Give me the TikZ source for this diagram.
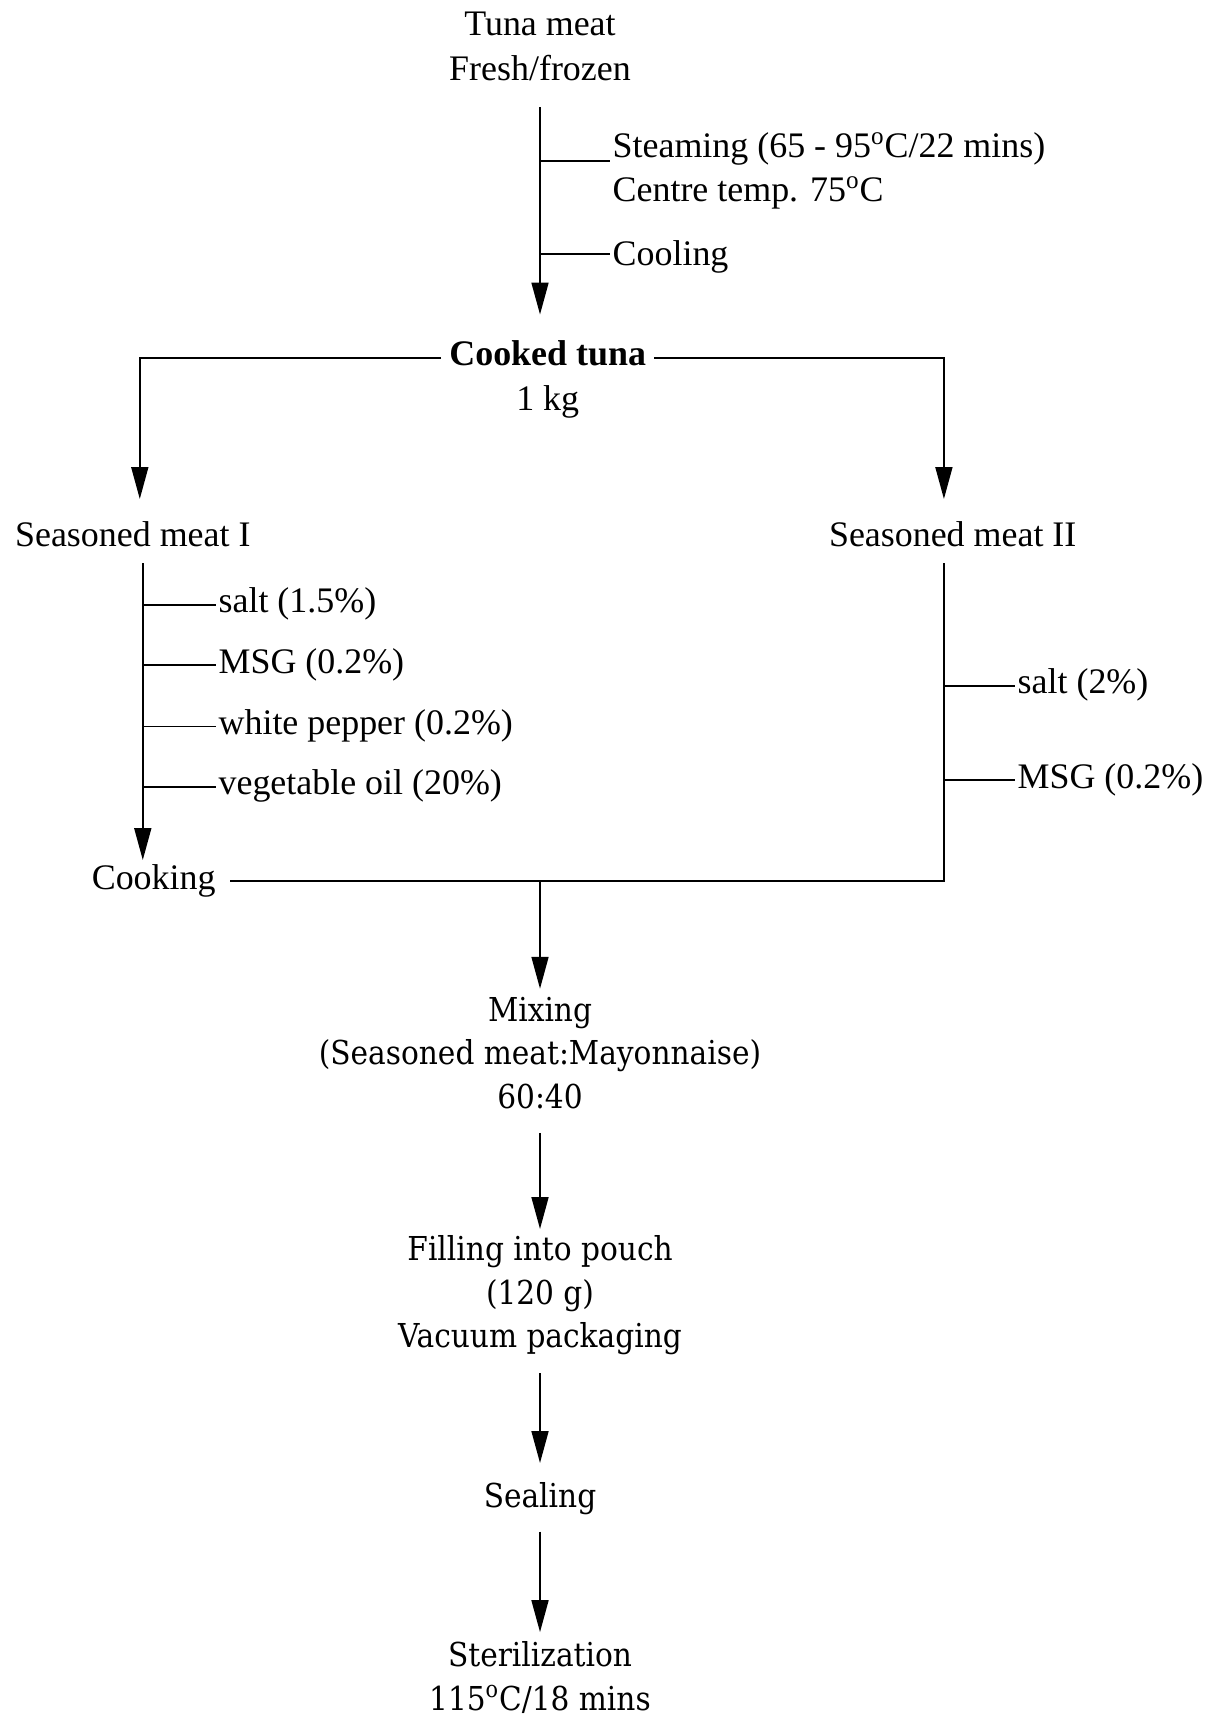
\documentclass[tikz,border=0pt]{standalone}
\usepackage{fontspec}
\setmainfont{Liberation Serif}
\newfontfamily\anchafont{DejaVu Serif Condensed}
\usetikzlibrary{arrows.meta,positioning}
\tikzset{
	paso/.style={font=\fontsize{18}{22}\selectfont, text height=12pt,
		text depth=4pt, inner sep=1pt},
	pasob/.style={font=\anchafont\fontsize{16.5}{21.5}\selectfont,
		text height=12pt, text depth=4pt, inner sep=1pt},
	rama/.style={paso, anchor=west},
	flecha/.style={-{Triangle[length=16pt,width=8.5pt]}, line width=0.9pt},
	linea/.style={line width=0.9pt}
}

\begin{document}
\begin{tikzpicture}[x=0.55pt, y=-0.55pt]
			\useasboundingbox (0,0) rectangle (1111,1568);
			
			\node[paso] (tuna) at (492,25) {Tuna meat};
			\node[paso, below=4pt of tuna] (fresh) {Fresh/frozen};
			\node[rama] (steam) at (556,136) {Steaming (65 - 95\textsuperscript{o}C/22 mins)};
			\node[rama] (centre) at (556,176) {Centre temp. 75\textsuperscript{o}C};
			\node[rama] (cool) at (556,235) {Cooling};
			
			\node[paso, inner xsep=4pt] (cooked) at (499,326) {\textbf{Cooked tuna}};
			\node[paso, below=4pt of cooked] (kg) {1 kg};
			
			\node[paso] (seasI) at (121,491) {Seasoned meat I};
			\node[paso] (seasII) at (868,491) {Seasoned meat II};
			\node[rama] (saltI) at (197,551) {salt (1.5\%)};
			\node[rama] (msgI) at (197,606) {MSG (0.2\%)};
			\node[rama] (pepper) at (197,662) {white pepper (0.2\%)};
			\node[rama] (oil) at (197,717) {vegetable oil (20\%)};
			\node[rama] (saltII) at (925,625) {salt (2\%)};
			\node[rama] (msgII) at (925,711) {MSG (0.2\%)};
			\node[paso] (cooking) at (140,803) {Cooking};
			
			\node[pasob] (mix) at (492,923) {Mixing};
			\node[pasob, below=3.5pt of mix] (ratio) {(Seasoned meat:Mayonnaise)};
			\node[pasob, below=3.5pt of ratio] (prop) {60:40};
			\node[pasob] (fill) at (492,1141) {Filling into pouch};
			\node[pasob, below=3.5pt of fill] (gram) {(120 g)};
			\node[pasob, below=3.5pt of gram] (vac) {Vacuum packaging};
			\node[pasob] (seal) at (492,1366) {Sealing};
			\node[pasob] (steril) at (492,1511) {Sterilization};
			\node[pasob, below=3.5pt of steril] (temp) {115\textsuperscript{o}C/18 mins};
			
			\coordinate (r1) at ([yshift=-2pt]steam.base west);
			\coordinate (r2) at ([yshift=2pt]cool.west);
			\coordinate (ejeI) at ([xshift=5pt]seasI.south);
			\coordinate (ejeII) at ([xshift=-4.4pt]seasII.south);
			
			\draw[flecha, shorten <=8.5pt, shorten >=12.5pt] (fresh.south) -- (fresh.south |- cooked.north);
			\draw[linea] (fresh.south |- r1) -- (r1);
			\draw[linea] (fresh.south |- r2) -- (r2);
			
			\draw[flecha, shorten >=10.8pt] (cooked.west) -| ([xshift=3.5pt]seasI.north);
			\draw[flecha, shorten >=10.8pt] (cooked.east) -| ([xshift=-4.4pt]seasII.north);
			
			\draw[flecha, shorten <=3pt, shorten >=1.5pt] (ejeI) -- (ejeI |- cooking.north);
			\foreach \n in {saltI,msgI,pepper,oil}
				\draw[linea] (ejeI |- \n.west) -- (\n.west);
			\foreach \n in {saltII,msgII}
				\draw[linea] (ejeII |- \n.west) -- (\n.west);
			\draw[linea, shorten <=3pt, shorten >=6pt] (ejeII) -- (ejeII |- cooking.east) -- (cooking.east);
			
			\draw[flecha, shorten >=3pt] (mix.north |- cooking.east) -- (mix.north);
			\draw[flecha, shorten <=7pt, shorten >=2.5pt] (prop.south) -- (fill.north);
			\draw[flecha, shorten <=7.5pt, shorten >=9pt] (vac.south) -- (seal.north);
			\draw[flecha, shorten <=7pt, shorten >=4pt] (seal.south) -- (steril.north);
		\end{tikzpicture}
\end{document}
